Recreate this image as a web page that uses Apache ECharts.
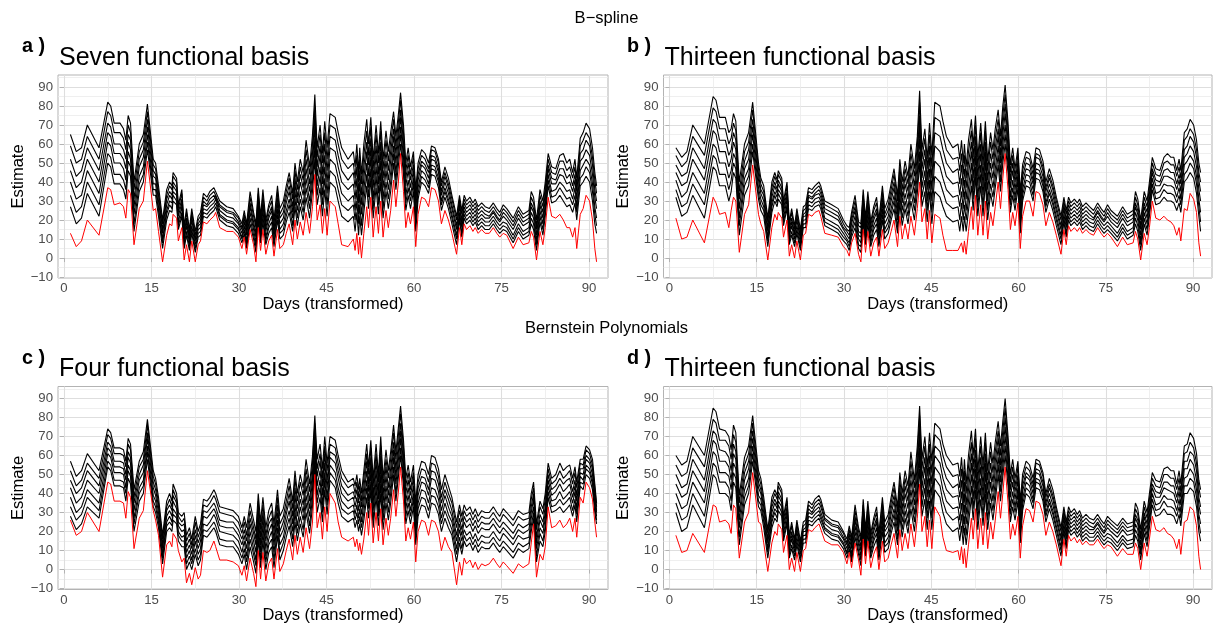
<!DOCTYPE html>
<html><head><meta charset="utf-8">
<script src="https://cdn.jsdelivr.net/npm/echarts@6/dist/echarts.min.js"></script>
<style>html,body{margin:0;padding:0;background:#fff}#c{width:1213px;height:628px}</style>
</head><body><div id="c"></div>
<script>
const days = [1.1,2.1,3.0,4.0,6.0,7.5,8.0,8.6,9.6,10.2,
10.6,11.0,11.4,12.0,12.9,13.6,14.3,15.3,15.7,16.2,
16.9,17.6,18.1,18.5,18.7,19.3,19.6,20.2,20.6,21.0,
21.5,21.9,22.5,23.0,23.4,23.9,24.5,25.0,25.7,26.0,
26.7,27.9,29.0,29.9,30.5,30.9,31.3,31.9,32.5,32.9,
33.3,33.7,34.1,34.6,35.1,35.6,36.0,36.6,37.0,37.6,
38.1,38.6,39.2,39.6,40.0,40.5,41.0,41.5,42.1,42.6,
43.0,43.4,43.9,44.3,44.7,45.1,45.6,46.5,47.0,47.6,
48.7,49.6,49.9,50.2,50.5,50.7,51.0,51.4,51.9,52.2,
52.6,53.0,53.5,53.9,54.3,54.7,55.2,55.6,56.0,56.5,
56.9,57.3,57.7,58.2,58.6,59.0,59.4,59.9,60.3,60.7,
61.3,61.9,62.5,63.0,63.6,64.2,64.7,65.3,65.9,66.5,
67.3,67.8,68.2,68.6,69.0,69.6,70.1,70.5,71.0,71.6,
72.2,72.9,73.6,74.2,74.7,75.3,75.9,77.0,77.9,78.7,
79.7,80.1,80.5,81.0,81.6,82.1,82.5,83.0,83.6,84.3,
85.0,85.6,86.2,86.7,87.2,87.6,87.9,88.5,89.0,89.5,
90.1,90.6,91.0,91.3];

const xTicks = [0,15,30,45,60,75,90];
const xMinor = [7.5,22.5,37.5,52.5,67.5,82.5];
const yTicks = [-10,0,10,20,30,40,50,60,70,80,90];
const yMinor = [-5,5,15,25,35,45,55,65,75,85,95];

/* ---- panel a : B-spline, seven basis ---- */
const redA = [13,6,9,20,12,37,36,28,29,27, 21,36,34,7,26,30,51,25,26,14,
-2,12,18,17,23,21,9,16,-1,7, -2,9,-2,7,9,19,18,20,22,24,
16,14,14,11,5,11,2,15,7,-2, 16,4,15,2,9,12,1,15,5,7,
13,18,7,20,10,19,12,24,13,27, 44,20,28,13,26,12,30,27,18,7,
6,10,4,13,2,11,0,13,27,16, 32,11,27,13,30,11,25,16,25,41,
27,39,55,35,16,24,18,27,6,23, 32,31,27,37,36,30,18,25,20,13,
2,16,7,18,15,17,14,16,13,15, 13,13,16,13,11,13,12,5,11,7,
8,14,11,-1,14,7,16,32,22,21, 23,20,16,16,11,16,5,23,26,33,
30,20,5,-2];
const bandA = [
[27,33,40,46,52,59,65],[18,24,31,37,43,50,56],[21,27,33,40,46,52,58],[34,40,46,52,58,64,70],[22,28,34,40,46,52,58],[50,55,61,66,71,77,82],[48,53,59,64,69,75,80],[39,44,50,55,60,66,71],[39,44,50,55,60,66,71],[36,41,47,52,57,63,68],
[31,36,41,47,52,57,62],[46,51,56,61,65,70,75],[43,48,52,57,62,66,71],[14,18,23,27,31,36,40],[35,39,43,48,52,56,60],[40,44,48,53,57,61,65],[57,61,65,69,73,77,81],[33,36,39,43,46,49,52],[33,36,39,42,44,47,50],[22,25,27,30,33,35,38],
[5,8,10,13,15,18,20],[20,23,25,28,31,33,36],[25,28,30,33,35,38,40],[24,26,29,31,33,36,38],[30,33,35,38,40,43,45],[28,30,33,35,37,40,42],[15,17,19,22,24,26,28],[22,24,27,29,31,34,36],[5,7,9,11,13,15,17],[12,14,17,19,21,24,26],
[4,6,8,10,11,13,15],[13,15,17,20,22,24,26],[3,5,7,9,10,12,14],[11,13,15,17,18,20,22],[12,14,16,18,20,22,24],[22,24,26,28,30,32,34],[21,23,25,27,28,30,32],[23,25,27,29,31,33,35],[25,27,29,31,33,35,37],[27,29,31,33,34,36,38],
[20,22,23,25,27,28,30],[17,19,20,22,24,25,27],[16,18,19,21,23,24,26],[13,15,16,18,19,21,22],[8,10,11,13,15,16,18],[13,15,17,19,21,23,25],[5,7,9,12,14,16,18],[18,21,24,27,29,32,35],[10,12,15,17,19,22,24],[3,6,8,11,13,16,18],
[20,23,26,29,31,34,37],[8,10,13,15,17,20,22],[19,22,25,28,30,33,36],[7,9,11,14,16,18,20],[13,16,18,21,23,26,28],[16,19,22,25,27,30,33],[6,8,11,13,15,18,20],[20,23,26,29,32,35,38],[10,13,15,18,21,23,26],[12,15,18,21,24,27,30],
[19,22,25,29,32,35,38],[24,28,31,35,38,42,45],[14,17,21,24,27,31,34],[27,31,35,39,42,46,50],[17,21,25,29,32,36,40],[27,31,35,40,44,48,52],[20,24,28,33,37,41,45],[32,37,42,47,52,57,62],[21,26,30,35,39,44,48],[35,40,45,50,55,60,65],
[52,58,63,69,75,80,86],[28,33,38,43,48,53,58],[37,43,48,54,59,65,70],[22,28,33,39,44,50,55],[36,42,48,54,60,66,72],[22,28,34,40,46,52,58],[40,46,52,58,64,70,76],[37,43,49,56,62,68,74],[30,36,42,48,54,60,66],[22,28,34,40,46,52,58],
[19,25,30,36,41,47,52],[22,28,33,39,45,50,56],[14,20,25,31,37,42,48],[24,30,36,42,48,54,60],[12,18,23,29,34,40,45],[22,28,34,40,46,52,58],[12,17,23,28,33,39,44],[24,30,36,42,48,54,60],[38,44,50,56,61,67,73],[26,32,37,43,49,54,60],
[42,47,53,58,63,69,74],[21,26,31,37,42,47,52],[37,43,48,54,59,65,70],[23,28,34,39,44,50,55],[40,45,51,56,61,67,72],[21,26,31,37,42,47,52],[35,40,46,51,56,62,67],[26,31,36,41,46,51,56],[35,40,45,51,56,61,66],[50,55,59,64,68,73,77],
[36,41,45,50,55,59,64],[48,53,57,62,66,71,75],[60,65,69,74,78,83,87],[44,48,53,57,61,66,70],[25,29,33,38,42,46,50],[33,37,41,46,50,54,58],[26,30,33,37,41,44,48],[35,39,42,46,49,53,56],[14,18,21,25,29,32,36],[31,34,37,41,44,47,50],
[40,43,46,49,51,54,57],[38,41,44,47,49,52,55],[34,37,39,42,45,47,50],[44,47,49,52,54,57,59],[43,46,48,51,53,56,58],[37,40,42,45,47,50,52],[25,28,30,33,35,38,40],[32,35,37,40,43,45,48],[26,29,31,34,37,39,42],[18,21,23,26,28,31,33],
[7,10,12,15,17,20,22],[20,22,24,27,29,31,33],[11,13,16,18,20,23,25],[21,23,25,27,29,31,33],[18,20,22,24,26,28,30],[20,22,24,26,28,30,32],[17,19,21,23,25,27,29],[19,21,23,25,27,29,31],[15,17,19,21,23,25,27],[17,19,21,23,25,27,29],
[15,17,19,21,23,25,27],[15,17,19,21,22,24,26],[18,20,22,24,25,27,29],[15,17,19,21,22,24,26],[13,15,17,19,20,22,24],[15,17,19,22,24,26,28],[14,16,18,20,22,24,26],[8,10,12,15,17,19,21],[14,16,18,21,23,25,27],[10,12,14,17,19,21,23],
[12,14,16,19,21,23,25],[18,21,24,27,29,32,35],[15,18,21,24,26,29,32],[4,7,9,12,15,17,20],[19,22,25,28,30,33,36],[12,15,18,21,24,27,30],[22,25,28,31,34,37,40],[38,41,44,47,49,52,55],[29,32,35,39,42,45,48],[30,33,36,39,41,44,47],
[33,37,40,44,47,51,54],[30,34,38,43,47,51,55],[27,31,35,39,42,46,50],[28,32,36,40,44,48,52],[24,28,31,35,38,42,45],[29,33,37,41,44,48,52],[20,24,27,31,35,38,42],[38,42,46,51,55,59,63],[40,44,49,53,57,62,66],[43,48,52,57,62,66,71],
[40,45,49,54,59,63,68],[30,35,39,44,49,53,58],[18,23,27,32,36,41,45],[13,17,21,26,30,34,38]];

/* ---- panel b : B-spline, thirteen basis ---- */
const redB = [21,10,11,20,8,32,29,23,24,16, 25,32,30,3,23,28,49,23,18,14,
-1,16,23,20,24,21,11,20,1,7, 0,9,-1,12,13,23,22,24,25,22,
13,12,11,6,4,1,8,13,2,-2, 15,3,14,1,8,11,1,15,5,8,
14,20,6,22,10,18,10,22,12,26, 40,19,26,10,25,8,23,21,12,4,
4,4,3,8,3,9,2,14,27,15, 33,12,28,12,30,10,24,17,27,40,
26,42,55,36,15,24,17,29,5,22, 30,30,22,35,34,28,17,24,19,12,
2,15,7,17,14,16,14,16,13,15, 13,12,16,13,11,13,11,6,11,7,
8,14,10,-1,13,7,16,30,21,20, 22,20,19,17,12,16,9,26,25,34,
31,24,8,1];
const bandB = [
[32,36,41,45,49,54,58],[22,27,32,38,43,48,53],[24,29,35,40,45,51,56],[33,39,45,52,58,64,70],[21,28,34,41,47,54,60],[48,54,60,67,73,79,85],[46,52,58,65,71,77,83],[38,44,50,56,62,68,74],[38,44,50,56,62,68,74],[30,36,42,48,54,60,66],
[35,41,46,52,57,63,68],[45,50,55,61,66,71,76],[42,47,52,57,62,67,72],[12,17,21,26,31,35,40],[33,38,42,47,51,56,60],[38,43,47,52,57,61,66],[56,60,65,69,73,78,82],[31,34,37,41,44,47,50],[25,28,31,34,36,39,42],[22,25,27,30,33,35,38],
[6,9,11,14,16,19,21],[24,27,29,32,35,37,40],[30,33,35,38,40,43,45],[27,29,32,34,36,39,41],[31,34,36,39,41,44,46],[28,30,33,35,37,40,42],[17,19,21,24,26,28,30],[26,28,31,33,35,38,40],[7,9,11,13,15,17,19],[12,14,17,19,21,24,26],
[6,8,10,12,13,15,17],[13,15,17,20,22,24,26],[4,6,8,10,11,13,15],[16,18,20,22,23,25,27],[16,18,20,22,24,26,28],[26,28,30,32,33,35,37],[25,27,29,31,32,34,36],[27,29,31,33,34,36,38],[28,30,32,34,36,38,40],[26,28,30,32,34,36,38],
[17,19,21,24,26,28,30],[15,17,19,22,24,26,28],[13,15,17,20,22,24,26],[9,11,13,15,16,18,20],[7,9,10,12,14,15,17],[4,6,8,10,12,14,16],[11,13,15,18,20,22,24],[16,19,22,25,27,30,33],[5,7,10,12,14,17,19],[3,6,8,11,13,16,18],
[19,22,25,28,30,33,36],[7,9,12,14,16,19,21],[18,21,24,27,29,32,35],[6,8,10,13,15,17,19],[12,15,17,20,22,25,27],[15,18,21,24,26,29,32],[6,8,11,13,15,18,20],[20,23,26,29,32,35,38],[10,13,15,18,21,23,26],[13,16,19,22,25,28,31],
[20,23,26,30,33,36,39],[26,30,33,37,40,44,47],[13,16,20,23,26,30,33],[29,33,37,41,44,48,52],[17,21,25,29,32,36,40],[26,30,34,39,43,47,51],[18,22,26,31,35,39,43],[30,35,40,45,50,55,60],[20,25,29,34,38,43,47],[34,39,44,49,54,59,64],
[50,56,63,69,75,82,88],[27,32,37,42,47,52,57],[35,41,46,52,57,63,68],[19,25,30,36,41,47,52],[35,41,47,53,59,65,71],[18,24,30,36,42,48,54],[35,43,51,59,66,74,82],[32,40,48,56,64,72,80],[27,35,42,50,57,65,72],[22,29,36,43,50,57,64],
[19,26,32,39,45,52,58],[20,27,33,40,47,53,60],[14,20,27,33,39,46,52],[22,29,35,42,49,55,62],[14,20,26,32,38,44,50],[22,28,35,41,47,54,60],[14,20,25,31,37,42,48],[25,31,37,44,50,56,62],[38,44,50,56,61,67,73],[25,31,36,42,48,53,59],
[43,48,54,59,64,70,75],[22,27,32,38,43,48,53],[38,44,49,55,60,66,71],[22,27,33,38,43,49,54],[40,45,51,56,61,67,72],[20,25,30,36,41,46,51],[34,39,45,50,55,61,66],[27,32,37,42,47,52,57],[37,42,47,53,58,63,68],[49,54,59,64,68,73,78],
[35,40,45,50,54,59,64],[50,55,60,65,70,75,80],[60,65,70,76,81,86,91],[45,49,54,58,62,67,71],[24,28,32,37,41,45,49],[33,37,41,46,50,54,58],[25,29,32,36,40,43,47],[37,41,44,48,51,55,58],[13,17,20,24,28,31,35],[30,33,36,40,43,46,49],
[38,41,44,47,50,53,56],[37,40,43,46,49,52,55],[30,33,36,39,41,44,47],[42,45,47,50,53,55,58],[41,44,46,49,52,54,57],[35,38,40,43,46,48,51],[24,27,29,32,35,37,40],[31,34,36,39,42,44,47],[25,28,30,33,36,38,41],[17,20,22,25,27,30,32],
[7,10,12,15,17,20,22],[19,21,23,26,28,30,32],[11,13,16,18,20,23,25],[20,22,24,26,28,30,32],[17,19,21,23,25,27,29],[19,21,23,25,27,29,31],[17,19,21,23,25,27,29],[19,21,23,25,27,29,31],[15,17,19,21,23,25,27],[17,19,21,23,25,27,29],
[15,17,19,21,23,25,27],[14,16,18,20,21,23,25],[18,20,22,24,25,27,29],[15,17,19,21,22,24,26],[13,15,17,19,20,22,24],[15,17,19,22,24,26,28],[13,15,17,19,21,23,25],[9,11,13,16,18,20,22],[14,16,18,21,23,25,27],[10,12,14,17,19,21,23],
[12,14,16,19,21,23,25],[18,21,24,27,29,32,35],[14,17,20,23,25,28,31],[4,7,9,12,15,17,20],[18,21,24,27,29,32,35],[12,15,18,21,24,27,30],[22,25,28,31,34,37,40],[36,39,42,45,47,50,53],[28,31,34,38,41,44,47],[29,32,35,38,40,43,46],
[32,36,39,43,46,50,53],[30,34,38,43,47,51,55],[30,34,38,42,45,49,53],[29,33,37,41,45,49,53],[25,29,32,36,39,43,46],[29,33,37,41,44,48,52],[24,28,31,35,39,42,46],[40,44,49,53,57,62,66],[42,46,51,55,59,64,68],[45,50,54,59,64,68,73],
[42,47,51,56,61,65,70],[34,39,43,48,53,57,62],[22,27,31,36,41,45,50],[14,19,24,30,35,40,45]];

/* ---- panel c : Bernstein, four basis ---- */
const redC = [26,18,20,30,20,46,45,36,36,35, 27,41,38,11,27,31,52,31,26,18,
-4,13,15,12,19,16,10,4,6,-7, -2,-8,1,-5,-3,10,9,10,15,12,
5,5,4,2,-3,2,-6,6,-2,-9, 10,-5,9,-6,3,6,-5,11,-1,3,
10,16,5,18,8,17,9,22,11,25, 50,22,30,16,33,20,40,35,25,17,
15,17,12,16,10,14,8,16,30,18, 35,14,30,15,32,13,27,18,27,42,
28,40,54,36,15,22,16,25,4,20, 26,25,18,26,25,20,10,17,12,9,
-8,4,-3,6,3,5,1,4,0,3, 2,3,6,3,1,4,2,-2,3,1,
3,14,24,-4,8,5,12,33,22,23, 26,22,24,27,20,27,17,38,35,46,
43,37,25,17];
const bandC = [
[28,33,38,43,47,52,57],[21,26,30,35,40,44,49],[24,29,33,38,43,47,52],[33,38,42,47,52,56,61],[27,31,35,40,44,48,52],[54,57,61,64,67,71,74],[52,55,59,62,65,69,72],[44,47,51,54,57,61,64],[44,47,51,54,57,61,64],[43,46,50,53,56,60,63],
[36,40,43,47,50,54,57],[48,52,55,59,62,66,69],[45,49,52,56,59,63,66],[20,24,27,31,35,38,42],[36,40,43,47,50,54,57],[40,44,47,51,55,58,62],[58,62,65,69,72,76,79],[33,36,39,43,46,49,52],[30,33,36,39,42,45,48],[22,25,27,30,33,35,38],
[3,6,8,11,13,16,18],[20,23,25,28,31,33,36],[22,25,28,31,34,37,40],[20,23,25,28,31,33,36],[26,29,32,36,39,42,45],[24,27,29,32,35,37,40],[15,18,20,23,25,28,30],[12,15,17,20,23,25,28],[12,15,18,21,24,27,30],[0,3,6,9,12,15,18],
[4,7,10,13,16,19,22],[0,3,5,8,11,13,16],[8,11,15,18,21,25,28],[2,5,8,11,14,17,20],[5,8,11,15,18,21,24],[18,21,24,28,31,34,37],[17,20,23,27,30,33,36],[19,22,25,29,32,35,38],[22,25,29,32,35,39,42],[20,23,27,30,33,37,40],
[13,16,20,23,26,30,33],[12,15,19,22,25,29,32],[12,15,18,22,25,28,31],[8,11,15,18,21,25,28],[3,6,9,13,16,19,22],[8,11,15,18,21,25,28],[0,4,7,11,15,18,22],[12,16,20,24,27,31,35],[4,8,11,15,19,22,26],[-2,2,5,9,13,16,20],
[16,20,24,28,32,36,40],[1,5,9,13,17,21,25],[15,19,23,27,30,34,38],[0,4,7,11,15,18,22],[9,13,16,20,24,27,31],[12,16,20,24,27,31,35],[1,5,9,13,16,20,24],[18,22,26,30,34,38,42],[5,9,13,17,20,24,28],[10,14,17,21,25,28,32],
[17,21,25,29,32,36,40],[23,27,31,36,40,44,48],[12,16,20,24,28,32,36],[25,30,34,39,43,48,52],[15,19,23,28,32,36,40],[24,28,33,37,41,46,50],[17,21,26,30,34,39,43],[30,35,39,44,49,53,58],[19,23,28,32,36,41,45],[33,38,42,47,51,56,60],
[55,59,64,68,72,77,81],[30,35,39,44,49,53,58],[38,43,47,52,57,61,66],[25,30,34,39,44,48,53],[42,47,51,56,61,65,70],[29,34,38,43,47,52,56],[47,51,55,59,62,66,70],[43,47,51,56,60,64,68],[35,39,43,48,52,56,60],[28,32,36,40,44,48,52],
[25,29,32,36,39,43,46],[27,31,34,38,41,45,48],[22,26,29,33,37,40,44],[26,30,34,38,42,46,50],[20,24,27,31,35,38,42],[24,28,32,36,40,44,48],[18,22,25,29,33,36,40],[26,30,35,39,43,48,52],[38,43,47,52,57,61,66],[27,32,36,41,45,50,54],
[42,46,51,55,59,64,68],[22,26,31,35,39,44,48],[38,43,47,52,57,61,66],[23,28,32,37,41,46,50],[40,45,50,55,60,65,70],[21,26,30,35,39,44,48],[35,40,44,49,54,58,63],[26,30,35,39,43,48,52],[35,40,44,49,53,58,62],[50,54,59,63,67,72,76],
[36,40,45,49,53,58,62],[48,52,57,61,65,70,74],[60,64,69,73,77,82,86],[44,48,52,56,60,64,68],[24,28,32,36,40,44,48],[31,35,39,43,47,51,55],[24,28,31,35,39,42,46],[33,37,40,44,48,51,55],[13,17,20,24,28,31,35],[28,32,35,39,43,46,50],
[34,38,42,46,49,53,57],[33,37,41,45,48,52,56],[27,31,35,39,42,46,50],[35,39,43,48,52,56,60],[34,38,42,47,51,55,59],[29,33,37,41,45,49,53],[20,24,27,31,35,38,42],[27,31,35,39,42,46,50],[22,26,29,33,37,40,44],[18,21,25,28,31,35,38],
[4,8,11,15,18,22,25],[14,17,21,24,27,31,34],[8,11,15,18,21,25,28],[15,18,21,25,28,31,34],[12,15,18,22,25,28,31],[14,17,20,24,27,30,33],[10,13,16,20,23,26,29],[13,16,19,23,26,29,32],[9,12,15,19,22,25,28],[12,15,18,22,25,28,31],
[11,14,17,21,24,27,30],[11,14,17,21,24,27,30],[14,17,20,24,27,30,33],[11,14,17,21,24,27,30],[9,12,15,19,22,25,28],[12,15,19,22,25,29,32],[10,13,17,20,23,27,30],[6,9,13,16,19,23,26],[11,14,18,21,24,28,31],[9,12,16,19,22,26,29],
[11,14,17,21,24,27,30],[20,23,27,30,33,37,40],[27,30,33,37,40,43,46],[4,7,11,14,17,21,24],[15,19,22,26,29,33,36],[12,15,19,22,25,29,32],[20,23,27,30,33,37,40],[38,41,44,47,50,53,56],[30,33,36,39,42,45,48],[31,34,37,41,44,47,50],
[33,37,41,45,48,52,56],[30,34,37,41,45,48,52],[32,36,39,43,47,50,54],[34,38,41,45,48,52,55],[28,31,35,38,41,45,48],[34,37,41,44,47,51,54],[25,29,32,36,39,43,46],[44,46,49,51,53,56,58],[42,45,47,50,53,55,58],[50,53,55,58,60,63,65],
[48,51,53,56,58,61,63],[42,45,47,50,53,55,58],[30,33,35,38,40,43,45],[24,26,28,30,31,33,35]];

/* ---- panel d : Bernstein, thirteen basis ---- */
const redD = [18,9,10,19,9,34,33,25,26,24, 19,34,32,6,25,30,51,25,24,14,
-1,14,20,18,24,21,9,18,0,6, -1,9,-1,10,11,21,20,22,24,23,
15,13,13,9,3,9,1,14,5,-3, 16,3,15,1,8,12,0,15,4,6,
13,19,6,21,10,19,11,24,12,27, 45,20,28,12,26,11,33,28,17,10,
9,10,5,12,3,11,1,13,27,16, 32,11,27,13,30,11,25,16,26,41,
27,40,54,35,16,24,18,28,6,23, 32,31,25,36,35,29,18,25,20,13,
2,16,7,18,15,17,14,16,13,15, 13,13,16,13,11,13,12,7,11,8,
8,14,11,0,14,7,16,28,21,20, 22,19,18,16,11,16,8,25,26,33,
31,23,7,0];
const bandD = [
[30,35,40,45,50,55,60],[20,26,32,38,43,49,55],[22,28,34,40,45,51,57],[34,40,46,52,58,64,70],[22,28,35,41,47,54,60],[50,56,62,68,73,79,85],[48,54,60,66,71,77,83],[40,46,51,57,63,68,74],[40,46,51,57,62,68,73],[38,43,49,54,59,65,70],
[31,36,42,47,52,58,63],[46,51,56,61,66,71,76],[43,48,53,58,62,67,72],[13,17,22,26,30,35,39],[34,38,42,47,51,55,59],[40,44,48,53,57,61,65],[57,61,65,69,73,77,81],[33,36,39,43,46,49,52],[31,34,37,40,42,45,48],[22,25,27,30,33,35,38],
[6,9,11,14,16,19,21],[22,25,27,30,33,35,38],[27,30,32,35,37,40,42],[25,27,30,32,34,37,39],[31,34,36,39,41,44,46],[28,30,33,35,37,40,42],[15,17,19,22,24,26,28],[24,26,29,31,33,36,38],[6,8,10,12,14,16,18],[11,13,16,18,20,23,25],
[5,7,9,11,12,14,16],[13,15,17,20,22,24,26],[4,6,8,10,11,13,15],[14,16,18,20,21,23,25],[14,16,18,20,22,24,26],[24,26,28,30,32,34,36],[23,25,27,29,30,32,34],[25,27,29,31,33,35,37],[27,29,31,33,35,37,39],[26,28,30,32,33,35,37],
[19,21,22,24,26,27,29],[16,18,19,21,23,24,26],[15,17,18,20,22,23,25],[11,13,14,16,17,19,20],[6,8,9,11,13,14,16],[11,13,15,17,19,21,23],[4,6,8,11,13,15,17],[17,20,23,26,28,31,34],[8,10,13,15,17,20,22],[2,5,7,10,12,15,17],
[20,23,26,29,31,34,37],[7,9,12,14,16,19,21],[19,22,25,28,30,33,36],[6,8,10,13,15,17,19],[12,15,17,20,22,25,27],[16,19,22,25,27,30,33],[5,7,10,12,14,17,19],[20,23,26,29,32,35,38],[9,12,14,17,20,22,25],[11,14,17,20,23,26,29],
[19,22,25,29,32,35,38],[25,29,32,36,39,43,46],[13,16,20,23,26,30,33],[28,32,36,40,43,47,51],[17,21,25,29,32,36,40],[27,31,35,40,44,48,52],[19,23,27,32,36,40,44],[32,37,42,47,52,57,62],[20,25,29,34,38,43,47],[35,40,45,50,55,60,65],
[53,59,64,70,75,81,86],[28,33,38,43,48,53,58],[37,43,48,54,59,65,70],[21,27,32,38,43,49,54],[36,42,48,54,60,66,72],[21,27,33,39,45,51,57],[42,48,54,60,65,71,77],[38,44,50,56,62,68,74],[30,36,42,48,54,60,66],[24,30,36,42,48,54,60],
[20,26,32,38,43,49,55],[22,28,33,39,45,50,56],[15,21,26,32,38,43,49],[23,29,35,41,47,53,59],[13,19,24,30,35,41,46],[22,28,34,40,46,52,58],[13,18,24,29,34,40,45],[24,30,36,42,48,54,60],[38,44,50,56,61,67,73],[26,32,37,43,49,54,60],
[42,47,53,58,63,69,74],[21,26,31,37,42,47,52],[37,43,48,54,59,65,70],[23,28,34,39,44,50,55],[40,45,51,56,61,67,72],[21,26,31,37,42,47,52],[35,40,46,51,56,62,67],[26,31,36,41,46,51,56],[36,41,46,52,57,62,67],[50,55,59,64,69,73,78],
[36,41,46,51,55,60,65],[49,54,59,64,68,73,78],[60,65,70,75,80,85,90],[44,48,53,57,61,66,70],[25,29,33,38,42,46,50],[33,37,41,46,50,54,58],[26,30,33,37,41,44,48],[36,40,43,47,50,54,57],[14,18,21,25,29,32,36],[31,34,37,41,44,47,50],
[40,43,46,49,51,54,57],[38,41,44,47,49,52,55],[32,35,37,40,43,45,48],[43,46,48,51,53,56,58],[42,45,47,50,52,55,57],[36,39,41,44,46,49,51],[25,28,30,33,35,38,40],[32,35,37,40,43,45,48],[26,29,31,34,37,39,42],[18,21,23,26,28,31,33],
[7,10,12,15,17,20,22],[20,22,24,27,29,31,33],[11,13,16,18,20,23,25],[21,23,25,27,29,31,33],[18,20,22,24,26,28,30],[20,22,24,26,28,30,32],[17,19,21,23,25,27,29],[19,21,23,25,27,29,31],[15,17,19,21,23,25,27],[17,19,21,23,25,27,29],
[15,17,19,21,23,25,27],[15,17,19,21,22,24,26],[18,20,22,24,25,27,29],[15,17,19,21,22,24,26],[13,15,17,19,20,22,24],[15,17,19,22,24,26,28],[14,16,18,20,22,24,26],[10,12,14,17,19,21,23],[14,16,18,21,23,25,27],[11,13,15,18,20,22,24],
[12,14,16,19,21,23,25],[18,21,24,27,29,32,35],[15,18,21,24,26,29,32],[5,8,10,13,16,18,21],[19,22,25,28,30,33,36],[12,15,18,21,24,27,30],[22,25,28,31,34,37,40],[34,37,40,43,45,48,51],[28,31,34,38,41,44,47],[29,32,35,38,40,43,46],
[32,36,39,43,46,50,53],[29,33,37,42,46,50,54],[29,33,37,41,44,48,52],[28,32,36,40,44,48,52],[24,28,31,35,38,42,45],[29,33,37,41,44,48,52],[23,27,30,34,38,41,45],[40,44,48,53,57,61,65],[40,44,49,53,57,62,66],[43,48,53,58,62,67,72],
[41,46,50,55,60,64,69],[33,38,42,47,52,56,61],[20,25,29,34,38,43,47],[15,19,24,29,33,38,42]];

const panels = [
  {tag:'a )', title:'Seven functional basis', red:redA, band:bandA, left:58, top:75, width:550},
  {tag:'b )', title:'Thirteen functional basis', red:redB, band:bandB, left:663.5, top:75, width:548.5},
  {tag:'c )', title:'Four functional basis', red:redC, band:bandC, left:58, top:386.5, width:550},
  {tag:'d )', title:'Thirteen functional basis', red:redD, band:bandD, left:663.5, top:386.5, width:548.5}
];
const XMIN = -1.03, XMAX = 93.26, YMIN = -10.5, YMAX = 96.3, PH = 203;
const FONT = '"Liberation Sans", Arial, Helvetica, sans-serif';
const minusFmt = v => String(v).replace('-', '\u2212');

const grids = [], xAxes = [], yAxes = [], series = [], graphics = [];
panels.forEach((p, i) => {
  grids.push({left:p.left, top:p.top, width:p.width, height:PH, show:true,
    borderColor:'#b3b3b3', borderWidth:1, backgroundColor:'#fff', containLabel:false});
  xAxes.push({type:'value', gridIndex:i, min:XMIN, max:XMAX,
    axisLine:{show:false},
    axisTick:{show:true, length:4, lineStyle:{color:'#b3b3b3', width:1}, customValues:xTicks},
    axisLabel:{customValues:xTicks, color:'#4d4d4d', fontSize:13.2, fontFamily:FONT, margin:4, formatter:minusFmt},
    splitLine:{show:true, lineStyle:{color:'#dedede', width:1.1}}});
  xAxes.push({type:'value', gridIndex:i, min:XMIN, max:XMAX,
    axisLine:{show:false}, axisTick:{show:false, customValues:xMinor},
    axisLabel:{show:false, customValues:xMinor},
    splitLine:{show:true, lineStyle:{color:'#ebebeb', width:0.8}}});
  yAxes.push({type:'value', gridIndex:i, min:YMIN, max:YMAX,
    axisLine:{show:false},
    axisTick:{show:true, length:4, lineStyle:{color:'#b3b3b3', width:1}, customValues:yTicks},
    axisLabel:{customValues:yTicks, color:'#4d4d4d', fontSize:13.2, fontFamily:FONT, margin:5, formatter:minusFmt},
    splitLine:{show:true, lineStyle:{color:'#dedede', width:1.1}}});
  yAxes.push({type:'value', gridIndex:i, min:YMIN, max:YMAX,
    axisLine:{show:false}, axisTick:{show:false, customValues:yMinor},
    axisLabel:{show:false, customValues:yMinor},
    splitLine:{show:true, lineStyle:{color:'#ebebeb', width:0.8}}});
  const nLines = p.band.length ? p.band[0].length : 0;
  for (let k = 0; k < nLines; k++) {
    series.push({type:'line', xAxisIndex:2*i, yAxisIndex:2*i, symbol:'none', silent:true,
      animation:false, z:2, lineStyle:{color:'#000', width:1.1},
      data: days.map((d, j) => [d, p.band[j] ? p.band[j][k] : null])});
  }
  series.push({type:'line', xAxisIndex:2*i, yAxisIndex:2*i, symbol:'none', silent:true,
    animation:false, z:3, lineStyle:{color:'#ff0000', width:1},
    data: days.map((d, j) => [d, p.red[j]])});
  const cx = p.left + p.width / 2, cy = p.top + PH / 2;
  const ox = p.left < 300 ? 0 : 605;
  graphics.push({type:'text', x:22 + ox, y:p.top - 28, style:{text:p.tag, fill:'#000',
    fontSize:19.8, fontWeight:'bold', fontFamily:FONT, align:'left', verticalAlign:'middle'}});
  graphics.push({type:'text', x:p.left + 1, y:p.top - 17, style:{text:p.title, fill:'#000',
    fontSize:25, fontFamily:FONT, align:'left', verticalAlign:'middle'}});
  graphics.push({type:'text', x:18 + ox, y:cy, rotation:Math.PI/2, style:{text:'Estimate', fill:'#000',
    fontSize:16.5, fontFamily:FONT, align:'center', verticalAlign:'middle'}});
  graphics.push({type:'text', x:cx, y:p.top + PH + 26, style:{text:'Days (transformed)', fill:'#000',
    fontSize:16.5, fontFamily:FONT, align:'center', verticalAlign:'middle'}});
});
graphics.push({type:'text', x:606.5, y:18, style:{text:'B\u2212spline', fill:'#000',
  fontSize:16.5, fontFamily:FONT, align:'center', verticalAlign:'middle'}});
graphics.push({type:'text', x:606.5, y:328, style:{text:'Bernstein Polynomials', fill:'#000',
  fontSize:16.5, fontFamily:FONT, align:'center', verticalAlign:'middle'}});

const chart = echarts.init(document.getElementById('c'), null, {renderer:'canvas'});
chart.setOption({
  animation:false,
  backgroundColor:'#fff',
  textStyle:{fontFamily:FONT},
  grid:grids, xAxis:xAxes, yAxis:yAxes, series:series, graphic:graphics
});
</script></body></html>
